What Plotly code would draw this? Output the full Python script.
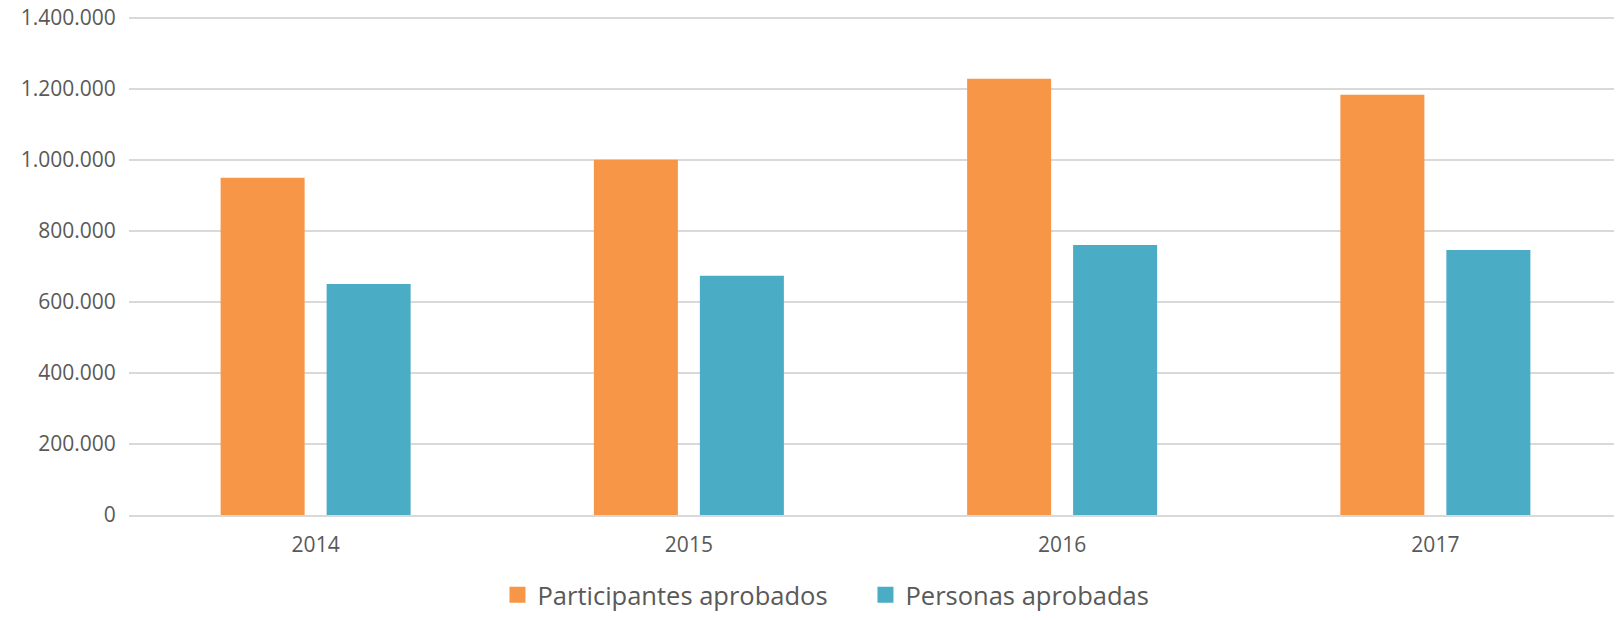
import plotly.graph_objects as go

years = ["2014", "2015", "2016", "2017"]
participantes = [949000, 1000000, 1228000, 1183000]
personas = [650000, 673000, 760000, 746000]
series_names = ["Participantes aprobados", "Personas aprobadas"]
colors = ["#F79646", "#4BACC6"]
y_ticks = [0, 200000, 400000, 600000, 800000, 1000000, 1200000, 1400000]

fig = go.Figure()
for vals, name, col in zip([participantes, personas], series_names, colors):
    fig.add_trace(go.Bar(x=years, y=vals, name=name, showlegend=False,
                         marker=dict(color=col, line=dict(width=0))))
# legend-only entries with larger square swatches
for name, col in zip(series_names, colors):
    fig.add_trace(go.Scatter(x=[None], y=[None], mode="markers", name=name,
                             marker=dict(symbol="square", size=17, color=col)))

font_family = "Open Sans"
gray = "#595959"

fig.update_layout(
    width=1622, height=620,
    margin=dict(l=121, r=8, t=6, b=113, autoexpand=False),
    paper_bgcolor="white", plot_bgcolor="white",
    barmode="group", bargap=0.432, bargroupgap=0.2075,
    separators=",.",
    font=dict(family=font_family, color=gray, size=21),
    showlegend=True,
    legend=dict(orientation="h", x=0.2468, xanchor="left", y=-0.160, yanchor="middle",
                font=dict(size=25.5, color=gray, family=font_family),
                entrywidth=323, entrywidthmode="pixels"),
)
fig.update_yaxes(range=[0, 1410000], tickvals=y_ticks, tickformat=",d",
                 ticklabeloverflow="allow", automargin=False,
                 showgrid=True, gridcolor="#d9d9d9", gridwidth=2,
                 zeroline=False, showline=False,
                 ticks="outside", ticklen=8, tickcolor="rgba(0,0,0,0)",
                 tickfont=dict(size=21, color=gray, family=font_family))
fig.update_xaxes(showline=True, linecolor="#d9d9d9", linewidth=2, automargin=False,
                 ticks="outside", ticklen=10, tickcolor="rgba(0,0,0,0)",
                 tickfont=dict(size=21, color=gray, family=font_family))

fig.write_html("out.html")
